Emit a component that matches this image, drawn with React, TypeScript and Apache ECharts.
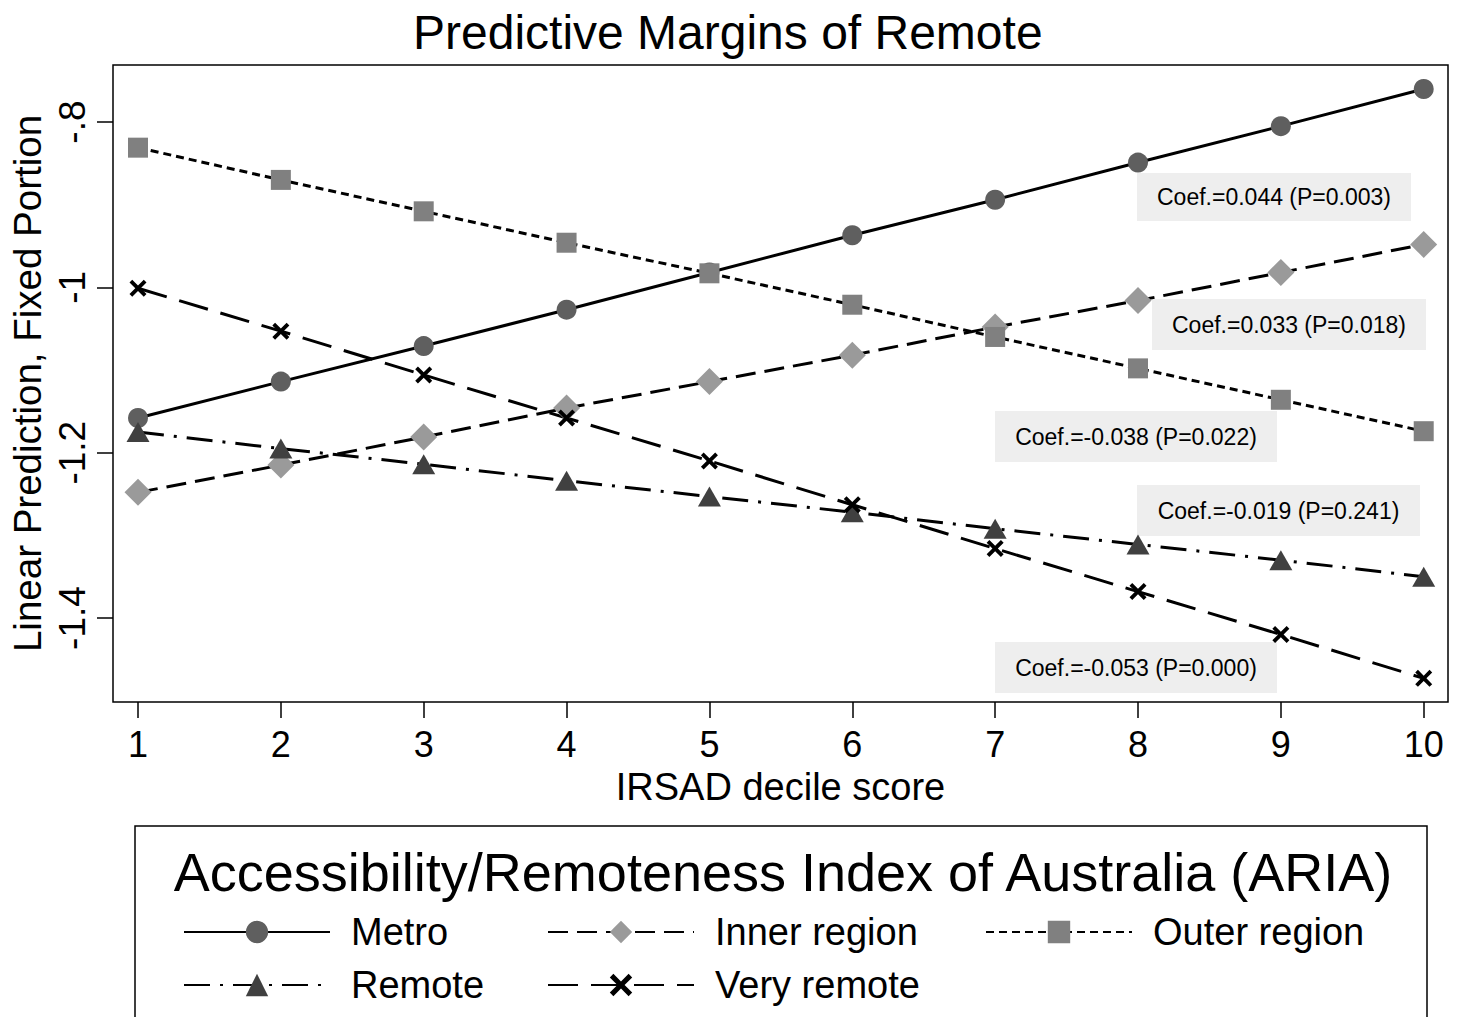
import React, { useEffect, useRef } from "react";
import * as echarts from "echarts";

const FONT = "'Liberation Sans', Arial, sans-serif";

const deciles = [1, 2, 3, 4, 5, 6, 7, 8, 9, 10];
const metro = [-1.158, -1.114, -1.071, -1.027, -0.982, -0.937, -0.894, -0.849, -0.805, -0.760];
const innerRegion = [-1.248, -1.215, -1.181, -1.146, -1.114, -1.082, -1.048, -1.016, -0.982, -0.948];
const outerRegion = [-0.831, -0.870, -0.908, -0.946, -0.983, -1.021, -1.060, -1.098, -1.136, -1.174];
const remote = [-1.175, -1.195, -1.214, -1.234, -1.253, -1.272, -1.292, -1.311, -1.330, -1.350];
const veryRemote = [-1.001, -1.053, -1.106, -1.158, -1.210, -1.263, -1.316, -1.368, -1.420, -1.473];

const seriesNames = ["Metro", "Inner region", "Outer region", "Remote", "Very remote"];
const yTicks = [-1.4, -1.2, -1, -0.8];
const yTickLabels = ["-1.4", "-1.2", "-1", "-.8"];

const coefTexts = [
  "Coef.=0.044 (P=0.003)",
  "Coef.=0.033 (P=0.018)",
  "Coef.=-0.038 (P=0.022)",
  "Coef.=-0.019 (P=0.241)",
  "Coef.=-0.053 (P=0.000)",
];
// annotation boxes (pixel layout)
const coefBoxes = [
  [1137, 173, 274, 48],
  [1152, 299, 274, 51],
  [995, 411, 282, 51],
  [1137, 485, 283, 51],
  [995, 642, 282, 51],
];

const X_MARK =
  "path://M0,1.6L1.6,0L5,3.4L8.4,0L10,1.6L6.6,5L10,8.4L8.4,10L5,6.6L1.6,10L0,8.4L3.4,5Z";

function pairs(vals: number[]) {
  return deciles.map((d, i) => [d, vals[i]]);
}

export default function App() {
  const ref = useRef<HTMLDivElement>(null);
  useEffect(() => {
    if (!ref.current) return;
    const chart = echarts.init(ref.current, undefined, { renderer: "svg" });

    const mk = (
      name: string,
      vals: number[],
      symbol: string,
      size: number | number[],
      color: string,
      dash: any
    ) => ({
      name,
      type: "line",
      data: pairs(vals),
      symbol,
      symbolSize: size,
      showSymbol: true,
      itemStyle: { color, borderWidth: 0 },
      lineStyle: { color: "#000", width: 3, type: dash },
      emphasis: { disabled: true },
      z: 3,
    });

    const graphics: any[] = [];
    coefBoxes.forEach((b, i) => {
      graphics.push({
        type: "rect",
        shape: { x: b[0], y: b[1], width: b[2], height: b[3] },
        style: { fill: "#eeeeee" },
        z: 1,
      });
      graphics.push({
        type: "text",
        x: b[0] + b[2] / 2,
        y: b[1] + b[3] / 2,
        style: {
          text: coefTexts[i],
          fontSize: 23,
          fontFamily: FONT,
          fill: "#000",
          textAlign: "center",
          textVerticalAlign: "middle",
          align: "center",
          verticalAlign: "middle",
        },
        z: 2,
      });
    });
    graphics.push({
      type: "rect",
      shape: { x: 135, y: 826, width: 1292, height: 260 },
      style: { fill: "none", stroke: "#000", lineWidth: 1.5 },
    });
    graphics.push({
      type: "text",
      x: 783,
      y: 872,
      style: {
        text: "Accessibility/Remoteness Index of Australia (ARIA)",
        fontSize: 54,
        fontFamily: FONT,
        fill: "#000",
        textAlign: "center",
        textVerticalAlign: "middle",
        align: "center",
        verticalAlign: "middle",
      },
    });

    const legendBase = {
      orient: "vertical",
      top: 912,
      padding: 0,
      itemWidth: 146,
      itemHeight: 28,
      itemGap: 13,
      selectedMode: false,
      textStyle: {
        fontSize: 38,
        lineHeight: 40,
        fontFamily: FONT,
        color: "#000",
        padding: [0, 0, 0, 16],
      },
    };

    chart.setOption({
      animation: false,
      backgroundColor: "#fff",
      title: {
        text: "Predictive Margins of Remote",
        left: 413,
        top: 8,
        padding: 0,
        textStyle: { fontSize: 48, fontWeight: "normal", fontFamily: FONT, color: "#000" },
      },
      grid: {
        left: 113,
        top: 65,
        width: 1335,
        height: 637,
        show: true,
        borderColor: "#000",
        borderWidth: 1.5,
        backgroundColor: "#fff",
      },
      xAxis: {
        type: "value",
        min: 0.825,
        max: 10.17,
        name: "IRSAD decile score",
        nameLocation: "middle",
        nameGap: 70,
        nameMoveOverlap: false,
        nameTextStyle: { fontSize: 38, lineHeight: 30, fontFamily: FONT, color: "#000" },
        axisLine: { show: false },
        axisTick: {
          show: true,
          length: 16,
          customValues: deciles,
          lineStyle: { color: "#000", width: 1.5 },
        },
        axisLabel: {
          customValues: deciles,
          fontSize: 36,
          lineHeight: 30,
          fontFamily: FONT,
          color: "#000",
          margin: 27,
        },
        splitLine: { show: false },
      },
      yAxis: {
        type: "value",
        min: -1.5016,
        max: -0.731,
        name: "Linear Prediction, Fixed Portion",
        nameLocation: "middle",
        nameGap: 66,
        nameRotate: 90,
        nameMoveOverlap: false,
        nameTextStyle: { fontSize: 38.5, fontFamily: FONT, color: "#000" },
        axisLine: { show: false },
        axisTick: {
          show: true,
          length: 16,
          customValues: yTicks,
          lineStyle: { color: "#000", width: 1.5 },
        },
        axisLabel: {
          customValues: yTicks,
          rotate: 90,
          fontSize: 37,
          fontFamily: FONT,
          color: "#000",
          margin: 22,
          formatter: (v: number) => {
            const idx = yTicks.findIndex((t) => Math.abs(t - v) < 1e-6);
            return idx >= 0 ? yTickLabels[idx] : "";
          },
        },
        splitLine: { show: false },
      },
      legend: [
        { ...legendBase, left: 183, data: [seriesNames[0], seriesNames[3]] },
        { ...legendBase, left: 547, data: [seriesNames[1], seriesNames[4]] },
        { ...legendBase, left: 985, data: [seriesNames[2]] },
      ],
      series: [
        mk(seriesNames[0], metro, "circle", 20, "#5f5f5f", "solid"),
        mk(seriesNames[1], innerRegion, "diamond", [27, 27], "#9a9a9a", [20, 9]),
        mk(seriesNames[2], outerRegion, "rect", 20, "#808080", [8, 5]),
        mk(seriesNames[3], remote, "triangle", [23, 20], "#404040", [26, 10, 3, 10]),
        mk(seriesNames[4], veryRemote, X_MARK, [17, 17], "#000", [30, 13]),
      ],
      graphic: graphics,
    });
    return () => chart.dispose();
  }, []);
  return (
    <div
      ref={ref}
      style={{ position: "absolute", left: 0, top: 0, width: 1464, height: 1017 }}
    />
  );
}
